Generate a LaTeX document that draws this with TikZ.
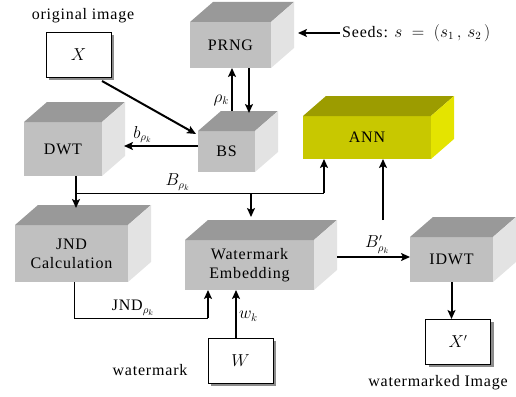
\documentclass[tikz,border=0pt]{standalone}
\usepackage{fontspec}
\setmainfont[LetterSpace=5]{Liberation Serif}
\usetikzlibrary{arrows.meta,calc,shadows}
\tikzset{>={Stealth[length=9pt,width=8pt,inset=2pt]}}
\definecolor{grayfront}{HTML}{C0C0C0}
\definecolor{graytop}{HTML}{999999}
\definecolor{grayside}{HTML}{E3E3E3}
\definecolor{annfront}{HTML}{C8C800}
\definecolor{anntop}{HTML}{9C9C00}
\definecolor{annside}{HTML}{E4E400}
\newcommand\DX{23}
\newcommand\DY{20}
%% 3d block: name, x, y, width, height, text, colour
\newcommand\cube[7]{%
  \node[face, fill=#7front, minimum width=#4pt, minimum height=#5pt] (#1) at (#2,#3) {#6};
  \fill[#7top] (#1.north west) -- ++(\DX,-\DY) -- ++(#4,0) -- (#1.north east) -- cycle;
  \fill[#7side] (#1.north east) -- ++(\DX,-\DY) -- ++(0,#5) -- (#1.south east) -- cycle;
}

\begin{document}
\begin{tikzpicture}[x=1pt,y=-1pt,
  face/.style={inner sep=0pt, outer sep=0pt, align=center, font=\fontsize{16}{19}\selectfont},
  lbl/.style={inner sep=2pt, font=\fontsize{16}{19}\selectfont},
  imgbox/.style={draw, line width=0.8pt, fill=white, inner sep=0pt, outer sep=0pt,
    minimum width=65pt, minimum height=45pt, font=\fontsize{16}{19}\selectfont,
    drop shadow={shadow xshift=3pt, shadow yshift=-3pt, fill=black!45, opacity=1}},
  arr/.style={->, line width=2pt},
  thinline/.style={line width=1pt}]

  \useasboundingbox (0,0) rectangle (516,396);

  \cube{prng}{230.5}{45}{81}{46}{PRNG}{gray}
  \cube{dwt}{63}{149}{78}{54}{DWT}{gray}
  \cube{bs}{226.5}{151.5}{57}{41}{BS}{gray}
  \cube{ann}{367}{137.5}{128}{43}{ANN}{ann}
  \cube{jnd}{71.5}{253.5}{113}{57}{JND\\Calculation}{gray}
  \cube{we}{249.5}{265}{129}{50}{Watermark\\Embedding}{gray}
  \cube{idwt}{451.5}{259.5}{83}{45}{IDWT}{gray}

  \node[imgbox] (x) at (78.5,54.5) {$X$};
  \node[imgbox] (w) at (240.5,360.5) {$W$};
  \node[imgbox] (xp) at (458,341.5) {$X'$};

  \node[lbl] (origlbl) at (83,16) {original image};
  \node[lbl] (wmlbl) at (150,370) {watermark};
  \node[lbl] (wdlbl) at (438,383) {watermarked Image};
  \node[lbl, anchor=west] (seeds) at (340,33) {Seeds: $s\;=\;(s_{1}\,,\,s_{2}\,)$};

  %% seeds -> PRNG
  \draw[arr] (seeds.west) -- ($(prng.east |- seeds.west)+(27,0)$);

  %% BS <-> PRNG
  \coordinate (bsup) at ($(bs.north)+(5.5,-20)$);
  \coordinate (bsdown) at ($(bs.north)+(22.5,-18)$);
  \draw[arr] (bsup) -- node[lbl, left, pos=0.25]{$\rho_k$} (bsup |- prng.south);
  \draw[arr] (bsdown |- prng.south) -- (bsdown);

  %% X -> BS -> DWT
  \draw[arr] ($(x.south east)+(-9,4)$) -- ($(bs.west)+(-2,-17.5)$);
  \coordinate (bsout) at ($(bs.west)+(0,-5.5)$);
  \coordinate (dwtin) at ($(dwt.east)+(22,0)$);
  \draw[arr] (bsout) -- node[lbl, above, pos=0.75]{$b_{\rho_k}$} (bsout -| dwtin);

  %% DWT -> JND, B line
  \coordinate (dwtout) at ($(dwt.south)+(13,0)$);
  \coordinate (jndin) at ($(jnd.north)+(0,-17)$);
  \draw[arr] (dwtout) -- (dwtout |- jndin);
  \coordinate (bsplit) at ($(dwtout)+(0,17)$);
  \coordinate (annin) at ($(ann.south)+(-43,0)$);
  \coordinate (wein) at ($(we.north)+(1.5,-23)$);
  \draw[thinline] (bsplit) -- node[lbl, above, pos=0.41]{$B_{\rho_k}$} (bsplit -| annin);
  \draw[arr] (bsplit -| annin) -- (annin);
  \draw[arr] (bsplit -| wein) -- (wein);

  %% WE -> IDWT -> X'
  \coordinate (weout) at ($(we.east)+(23,-8)$);
  \draw[arr] (weout) -- node[lbl, above, pos=0.55]{$B'_{\rho_k}$} (weout -| idwt.west);
  \coordinate (bprime) at (383,220);
  \draw[arr] (bprime) -- (bprime |- ann.south);
  \draw[arr] (idwt.south) -- (idwt.south |- xp.north);

  %% JND -> WE, W -> WE
  \coordinate (jndout) at ($(jnd.south)+(2.5,0)$);
  \coordinate (wejnd) at ($(we.south)+(-41.5,0)$);
  \coordinate (jndturn) at ($(wejnd)+(0,28)$);
  \draw[thinline] (jndout) |- node[lbl, above, pos=0.72]{JND$_{\rho_k}$} (jndturn);
  \draw[arr] (jndturn) -- (wejnd);
  \coordinate (wout) at ($(w.north)+(-4.5,0)$);
  \draw[arr] (wout) -- node[lbl, right, pos=0.45]{$w_k$} (wout |- we.south);

\end{tikzpicture}
\end{document}
